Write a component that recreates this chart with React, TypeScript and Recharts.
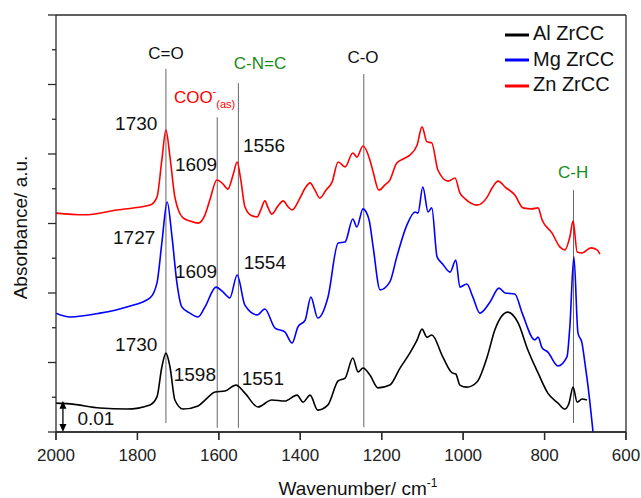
import { LineChart, Line, XAxis, YAxis, ReferenceLine, ReferenceDot, Legend, Label } from "recharts";

const FONT = "'Liberation Sans', Arial, sans-serif";

// absorbance in units of 1e-3 (0.01 = 10)
const znWavenumber = [2000, 1931, 1850, 1769, 1752, 1740, 1730, 1720, 1708, 1688, 1671, 1651, 1634, 1622, 1605, 1590, 1578, 1565, 1555, 1546, 1536, 1519, 1506, 1497, 1487, 1479, 1470, 1455, 1442, 1430, 1420, 1401, 1388, 1376, 1364, 1352, 1337, 1322, 1307, 1290, 1271, 1261, 1246, 1229, 1221, 1207, 1192, 1180, 1163, 1143, 1131, 1113, 1101, 1089, 1077, 1062, 1037, 1020, 1008, 995, 966, 941, 929, 914, 897, 873, 853, 831, 816, 806, 782, 762, 750, 738, 730, 720, 708, 686, 671, 664];
const znAbs = [63.0, 62.5, 63.9, 65.3, 67.6, 78.3, 86.9, 79.1, 67.6, 61.6, 60.7, 60.1, 62.5, 66.8, 72.5, 71.4, 69.9, 74.0, 77.7, 72.5, 64.8, 62.2, 61.9, 63.9, 66.5, 64.5, 62.7, 65.0, 66.5, 64.8, 63.9, 67.3, 70.2, 71.7, 69.6, 67.3, 69.6, 71.9, 77.7, 76.3, 80.3, 79.1, 82.3, 78.3, 74.8, 69.6, 71.1, 72.5, 77.4, 78.8, 79.7, 82.6, 87.8, 83.5, 83.2, 75.4, 72.2, 73.1, 68.8, 67.1, 65.3, 67.6, 70.2, 72.2, 70.5, 68.2, 64.5, 64.2, 64.5, 61.0, 57.3, 53.2, 52.4, 56.1, 60.7, 51.8, 51.5, 53.0, 52.4, 51.2];

const mgWavenumber = [2000, 1966, 1892, 1826, 1769, 1752, 1740, 1727, 1715, 1703, 1691, 1671, 1651, 1634, 1607, 1590, 1573, 1555, 1536, 1506, 1487, 1462, 1438, 1420, 1406, 1388, 1374, 1357, 1332, 1307, 1290, 1271, 1261, 1246, 1231, 1221, 1204, 1180, 1163, 1138, 1118, 1111, 1099, 1086, 1077, 1064, 1050, 1032, 1018, 1008, 991, 976, 959, 934, 912, 897, 873, 855, 824, 816, 806, 792, 767, 745, 738, 728, 718, 708, 701, 693, 681];
const mgAbs = [34.2, 33.1, 34.2, 36.0, 38.6, 42.9, 54.4, 66.2, 56.1, 42.9, 36.0, 34.2, 33.1, 36.0, 41.7, 40.3, 38.6, 45.2, 36.5, 33.7, 35.4, 29.9, 28.8, 25.6, 30.2, 32.2, 38.8, 32.8, 38.8, 54.4, 54.7, 61.3, 59.0, 64.2, 61.0, 53.2, 40.9, 43.2, 50.4, 59.6, 63.3, 63.0, 70.5, 63.3, 64.5, 50.4, 48.3, 46.0, 49.5, 41.7, 42.6, 38.8, 34.2, 37.4, 41.4, 40.0, 39.7, 34.2, 26.5, 27.3, 24.2, 23.0, 19.0, 21.6, 30.2, 50.4, 28.5, 25.6, 19.9, 12.9, 0];

const alWavenumber = [2000, 1966, 1892, 1826, 1769, 1752, 1740, 1730, 1720, 1708, 1688, 1651, 1634, 1609, 1585, 1558, 1536, 1504, 1470, 1438, 1408, 1393, 1376, 1357, 1332, 1307, 1290, 1271, 1258, 1246, 1229, 1209, 1180, 1155, 1131, 1113, 1101, 1089, 1077, 1050, 1027, 1018, 1008, 991, 966, 941, 922, 890, 865, 841, 816, 792, 767, 750, 740, 730, 720, 708, 696];
const alAbs = [8.3, 8.1, 6.9, 6.6, 7.8, 10.1, 18.7, 22.7, 18.7, 9.2, 6.6, 7.5, 9.2, 11.5, 11.8, 13.5, 11.2, 7.2, 9.2, 8.9, 10.6, 8.6, 10.6, 6.3, 7.8, 14.7, 15.5, 21.3, 17.3, 18.4, 16.4, 12.7, 13.5, 18.4, 22.7, 26.5, 29.6, 27.3, 27.9, 21.6, 17.0, 16.7, 13.5, 12.9, 14.4, 21.6, 29.4, 34.5, 31.4, 23.6, 17.0, 11.2, 8.3, 6.6, 8.3, 12.9, 8.6, 9.5, 9.2];

const xTicks = [2000, 1800, 1600, 1400, 1200, 1000, 800, 600];
const yMajorTicks = [0, 20, 40, 60, 80, 100, 120];
const yMinorTicks = [10, 30, 50, 70, 90, 110];

// band assignments: wavenumber, line bottom, line top
const bandLines = [
  { wn: 1730, lo: 2.6, hi: 104.5 },
  { wn: 1604, lo: 1.2, hi: 90.6 },
  { wn: 1552, lo: 1.2, hi: 100.4 },
  { wn: 1244, lo: 1.4, hi: 103.0 },
  { wn: 729, lo: 2.6, hi: 69.6 },
];
const bandLabels = [
  { text: "C=O", wn: 1730, v: 109.1, color: "#111" },
  { text: "C-N=C", wn: 1499, v: 106.2, color: "#1a8a1a" },
  { text: "C-O", wn: 1246, v: 107.9, color: "#111" },
  { text: "C-H", wn: 730, v: 74.8, color: "#1a8a1a" },
];
const peakLabels = [
  { text: "1730", wn: 1803, v: 88.9 },
  { text: "1609", wn: 1656, v: 77.1 },
  { text: "1556", wn: 1489, v: 82.6 },
  { text: "1727", wn: 1808, v: 56.1 },
  { text: "1609", wn: 1656, v: 46.3 },
  { text: "1554", wn: 1487, v: 48.9 },
  { text: "1730", wn: 1803, v: 25.3 },
  { text: "1598", wn: 1659, v: 16.7 },
  { text: "1551", wn: 1492, v: 15.5 },
  { text: "0.01", wn: 1902, v: 4.0 },
];

const toData = (wn: number[], abs: number[]) => wn.map((w, i) => ({ wn: w, v: abs[i] }));

const SERIES = [
  { name: "Zn ZrCC", color: "#ff0000", data: toData(znWavenumber, znAbs) },
  { name: "Mg ZrCC", color: "#0000ff", data: toData(mgWavenumber, mgAbs) },
  { name: "Al ZrCC", color: "#000000", data: toData(alWavenumber, alAbs) },
];

const AXIS = "#2a2a2a";
const axisLine = { stroke: AXIS, strokeWidth: 1.3 };
const X0 = 2000, X1 = 600, Y0 = 0, Y1 = 120;

// plot frame (bottom, top, right)
const frame = [
  [{ x: X0, y: Y0 }, { x: X1, y: Y0 }],
  [{ x: X0, y: Y1 }, { x: X1, y: Y1 }],
  [{ x: X1, y: Y0 }, { x: X1, y: Y1 }],
];

const ScaleArrow = (p: any) => {
  const x = p.x1;
  const top = Math.min(p.y1, p.y2);
  const bot = Math.max(p.y1, p.y2);
  return (
    <g>
      <line x1={x} y1={top + 3} x2={x} y2={bot - 3} stroke="#000" strokeWidth={1.3} />
      <polygon points={`${x},${top} ${x - 3.5},${top + 8} ${x + 3.5},${top + 8}`} fill="#000" />
      <polygon points={`${x},${bot} ${x - 3.5},${bot - 8} ${x + 3.5},${bot - 8}`} fill="#000" />
    </g>
  );
};

const XTickMark = (p: any) => {
  const y = Math.max(p.y1, p.y2);
  return <line x1={p.x1} y1={y} x2={p.x1} y2={y + 8} stroke={AXIS} strokeWidth={1.3} />;
};
const YMinorMark = (p: any) => {
  const x = Math.min(p.x1, p.x2);
  return <line x1={x - 4} y1={p.y1} x2={x} y2={p.y1} stroke={AXIS} strokeWidth={1.3} />;
};

const CooLabel = (p: any) => {
  const { x, y } = p.viewBox;
  return (
    <text x={x} y={y} fill="#ff0000" fontFamily={FONT} fontSize={17}>
      COO
      <tspan dy={-8} fontSize={11}>-</tspan>
      <tspan dy={13} fontSize={11}>(as)</tspan>
    </text>
  );
};

const XTitle = (p: any) => {
  const vb = p.viewBox;
  return (
    <text x={vb.x + vb.width / 2 + 17} y={vb.y + 63} textAnchor="middle" fontSize={19} fill="#111" fontFamily={FONT}>
      Wavenumber/ cm<tspan dy={-8} fontSize={12}>-1</tspan>
    </text>
  );
};

const YTitle = (p: any) => {
  const vb = p.viewBox;
  const cx = vb.x + vb.width - 29;
  const cy = vb.y + vb.height / 2 + 4;
  return (
    <text x={cx} y={cy} transform={`rotate(-90, ${cx}, ${cy})`} textAnchor="middle" fontSize={19} fill="#111" fontFamily={FONT}>
      Absorbance/ a.u.
    </text>
  );
};

export default function App() {
  return (
    <div style={{ width: 641, height: 498, background: "#fff", fontFamily: FONT, position: "relative" }}>
      <style>{"body{margin:0}"}</style>
      <LineChart width={641} height={498} margin={{ top: 15, right: 15, bottom: 0, left: 0 }}>
        <XAxis
          xAxisId="b"
          type="number"
          dataKey="wn"
          domain={[X1, X0]}
          reversed
          ticks={xTicks}
          height={66}
          tickSize={8}
          tickMargin={9}
          axisLine={axisLine}
          tickLine={axisLine}
          tick={{ fontSize: 17, fill: "#222", fontFamily: FONT }}
          allowDataOverflow
        >
          <Label content={<XTitle />} />
        </XAxis>
        <YAxis
          yAxisId="maj"
          domain={[Y0, Y1]}
          ticks={yMajorTicks}
          width={56}
          tickSize={8}
          tickFormatter={() => ""}
          axisLine={axisLine}
          tickLine={axisLine}
          allowDataOverflow
        >
          <Label content={<YTitle />} />
        </YAxis>

        {frame.map((seg, i) => (
          <ReferenceLine key={"f" + i} xAxisId="b" yAxisId="maj" segment={seg} stroke={AXIS} strokeWidth={1.3} ifOverflow="visible" />
        ))}
        {xTicks.map(t => (
          <ReferenceLine key={"xt" + t} xAxisId="b" yAxisId="maj" segment={[{ x: t, y: Y0 }, { x: t, y: Y0 + 1 }]} ifOverflow="visible" shape={XTickMark} />
        ))}
        {yMinorTicks.map(t => (
          <ReferenceLine key={"ym" + t} xAxisId="b" yAxisId="maj" segment={[{ x: X0, y: t }, { x: X0 - 10, y: t }]} ifOverflow="visible" shape={YMinorMark} />
        ))}

        {bandLines.map(b => (
          <ReferenceLine
            key={b.wn}
            xAxisId="b"
            yAxisId="maj"
            segment={[{ x: b.wn, y: b.lo }, { x: b.wn, y: b.hi }]}
            stroke="#666"
            strokeWidth={1}
            ifOverflow="visible"
          />
        ))}

        {SERIES.map(s => (
          <Line
            key={s.name}
            xAxisId="b"
            yAxisId="maj"
            data={s.data}
            dataKey="v"
            name={s.name}
            type="monotone"
            stroke={s.color}
            strokeWidth={1.6}
            dot={false}
            legendType="plainline"
            isAnimationActive={false}
          />
        ))}

        <ReferenceLine
          xAxisId="b"
          yAxisId="maj"
          segment={[{ x: 1983, y: 0 }, { x: 1983, y: 9 }]}
          ifOverflow="visible"
          shape={ScaleArrow}
        />

        {bandLabels.map(l => (
          <ReferenceDot
            key={l.text}
            xAxisId="b"
            yAxisId="maj"
            x={l.wn}
            y={l.v}
            r={1}
            fill="none"
            stroke="none"
            ifOverflow="visible"
            label={{ value: l.text, position: "center", fill: l.color, fontSize: 17, fontFamily: FONT }}
          />
        ))}
        <ReferenceDot xAxisId="b" yAxisId="maj" x={1708} y={94.4} r={1} fill="none" stroke="none" ifOverflow="visible" label={<CooLabel />} />
        {peakLabels.map((l, i) => (
          <ReferenceDot
            key={i}
            xAxisId="b"
            yAxisId="maj"
            x={l.wn}
            y={l.v}
            r={1}
            fill="none"
            stroke="none"
            ifOverflow="visible"
            label={{ value: l.text, position: "center", fill: "#111", fontSize: 19, fontFamily: FONT }}
          />
        ))}

        <Legend
          layout="vertical"
          align="center"
          verticalAlign="middle"
          iconSize={24}
          formatter={(value: any) => <span style={{ color: "#111" }}>{value}</span>}
          wrapperStyle={{ top: 21, left: 505, width: "auto", right: "auto", bottom: "auto", fontSize: 20, textAlign: "left", lineHeight: "24px" }}
        />
      </LineChart>
    </div>
  );
}
